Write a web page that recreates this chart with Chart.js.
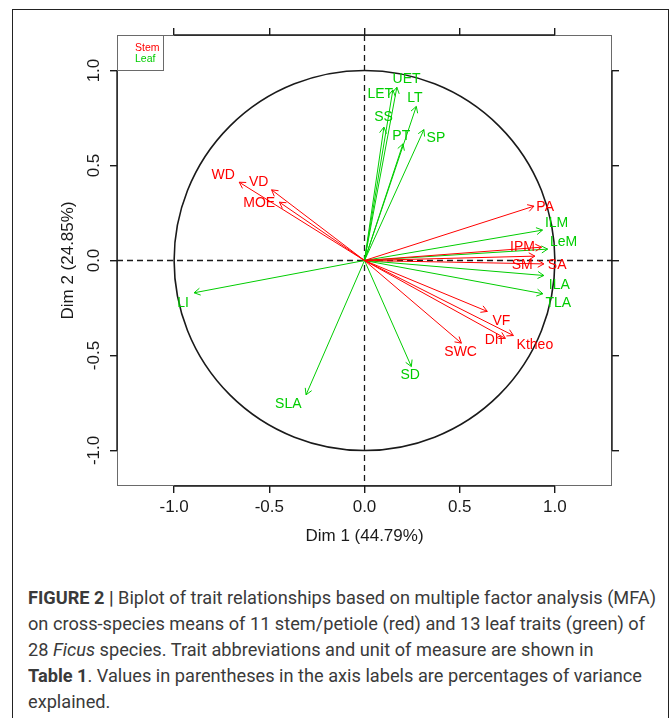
<!DOCTYPE html>
<html>
<head>
<meta charset="utf-8">
<title>MFA biplot</title>
<script src="https://cdn.jsdelivr.net/npm/chart.js@4.4.0/dist/chart.umd.min.js"></script>
<style>
  html, body { margin: 0; padding: 0; background: #fff; }
  body { width: 672px; height: 718px; overflow: hidden; position: relative; }
  #frame { position: absolute; left: 12px; top: 9px; width: 655px; height: 760px; border: 1.5px solid #222; }
  #wrap { position: absolute; left: 0; top: 0; width: 672px; height: 560px; }
  #caption {
    position: absolute; left: 28px; top: 585px;
    font-family: 'Roboto', 'Liberation Sans', sans-serif;
    font-size: 17.5px; line-height: 26px; color: #3a3a3a; white-space: nowrap;
    transform-origin: 0 0;
  }
  #caption span.line { display: block; }
</style>
</head>
<body>
<div id="frame"></div>
<div id="wrap"><canvas id="biplot"></canvas></div>
<div id="caption">
  <span class="line" id="capFirst"><b>FIGURE 2 |</b> Biplot of trait relationships based on multiple factor analysis (MFA)</span>
  <span class="line">on cross-species means of 11 stem/petiole (red) and 13 leaf traits (green) of</span>
  <span class="line">28 <i>Ficus</i> species. Trait abbreviations and unit of measure are shown in</span>
  <span class="line"><b>Table 1</b>. Values in parentheses in the axis labels are percentages of variance</span>
  <span class="line">explained.</span>
</div>
<script>
// stem / petiole traits (red)
const stemTraits = ['WD', 'VD', 'MOE', 'PA', 'IPM', 'SM', 'SA', 'VF', 'Dh', 'Ktheo', 'SWC'];
const stemDim1 = [-0.658, -0.488, -0.447, 0.89, 0.93, 0.895, 0.942, 0.645, 0.74, 0.782, 0.509];
const stemDim2 = [0.412, 0.372, 0.307, 0.286, 0.07, 0.023, -0.018, -0.268, -0.41, -0.395, -0.435];
const stemLabelDim1 = [-0.742, -0.556, -0.553, 0.949, 0.83, 0.828, 1.012, 0.719, 0.679, 0.895, 0.505];
const stemLabelDim2 = [0.447, 0.412, 0.304, 0.281, 0.068, -0.026, -0.023, -0.319, -0.421, -0.447, -0.482];

// leaf traits (green)
const leafTraits = ['UET', 'LET', 'SS', 'LT', 'PT', 'SP', 'ILM', 'LeM', 'ILA', 'TLA', 'LI', 'SLA', 'SD'];
const leafDim1 = [0.17, 0.149, 0.102, 0.272, 0.202, 0.312, 0.935, 0.962, 0.942, 0.937, -0.895, -0.307, 0.246];
const leafDim2 = [0.912, 0.898, 0.702, 0.811, 0.614, 0.689, 0.16, 0.06, -0.079, -0.175, -0.17, -0.707, -0.558];
const leafLabelDim1 = [0.221, 0.083, 0.1, 0.265, 0.193, 0.375, 1.009, 1.046, 1.023, 1.018, -0.953, -0.4, 0.24];
const leafLabelDim2 = [0.956, 0.877, 0.754, 0.853, 0.653, 0.646, 0.196, 0.096, -0.128, -0.223, -0.223, -0.758, -0.605];

// axes
const xTicks = [-1, -0.5, 0, 0.5, 1];
const xTickLabels = ['-1.0', '-0.5', '0.0', '0.5', '1.0'];
const yTicks = [-1, -0.5, 0, 0.5, 1];
const yTickLabels = ['-1.0', '-0.5', '0.0', '0.5', '1.0'];
const xRange = [-1.3, 1.3];
const yRange = [-1.187, 1.187];
const xTitle = 'Dim 1 (44.79%)';
const yTitle = 'Dim 2 (24.85%)';
const groupNames = ['Stem', 'Leaf'];

const colors = {
  stem: '#FF0000',
  leaf: '#00CD00',
  ink: '#1a1a1a',
  box: '#6a6a6a'
};
const fontFamily = "'Liberation Sans', Arial, Helvetica, sans-serif";

// one dataset per arrow, origin -> loading
function arrowSets(names, d1, d2, color) {
  return names.map((n, i) => ({
    label: n,
    data: [{x: 0, y: 0}, {x: d1[i], y: d2[i]}],
    showLine: true,
    borderColor: color,
    borderWidth: 1,
    pointRadius: 0,
    pointHoverRadius: 0,
    tipColor: color
  }));
}

const fixTicks = (vals) => (scale) => { scale.ticks = vals.map(v => ({value: v})); };

// R-style decorations: box, axis segments, unit circle, dashed zero lines, arrowheads, labels
const biplotDecor = {
  id: 'biplotDecor',
  beforeDatasetsDraw(chart) {
    const {ctx, chartArea: a, scales: {x, y}} = chart;
    const cx = x.getPixelForValue(0), cy = y.getPixelForValue(0);
    ctx.save();
    ctx.strokeStyle = colors.box;
    ctx.lineWidth = 1;
    ctx.strokeRect(a.left + 0.5, a.top + 0.5, a.width - 1, a.height - 1);

    const x0 = x.getPixelForValue(xTicks[0]), x1 = x.getPixelForValue(xTicks[xTicks.length - 1]);
    const y0 = y.getPixelForValue(yTicks[0]), y1 = y.getPixelForValue(yTicks[yTicks.length - 1]);
    ctx.strokeStyle = colors.ink;
    ctx.lineWidth = 1.4;
    ctx.beginPath();
    ctx.moveTo(x0, a.bottom); ctx.lineTo(x1, a.bottom);
    ctx.moveTo(x0, a.top); ctx.lineTo(x1, a.top);
    ctx.moveTo(a.left, y0); ctx.lineTo(a.left, y1);
    ctx.moveTo(a.right, y0); ctx.lineTo(a.right, y1);
    ctx.stroke();

    // correlation circle
    const rx = x.getPixelForValue(1) - cx, ry = cy - y.getPixelForValue(1);
    ctx.lineWidth = 1.6;
    ctx.beginPath();
    ctx.ellipse(cx, cy, rx, ry, 0, 0, Math.PI * 2);
    ctx.stroke();

    ctx.lineWidth = 1.3;
    ctx.setLineDash([6, 4]);
    ctx.beginPath();
    ctx.moveTo(a.left, cy); ctx.lineTo(a.right, cy);
    ctx.moveTo(cx, a.top); ctx.lineTo(cx, a.bottom);
    ctx.stroke();
    ctx.restore();
  },
  afterDatasetsDraw(chart) {
    const {ctx, chartArea: a, scales: {x, y}} = chart;
    const ox = x.getPixelForValue(0), oy = y.getPixelForValue(0);
    ctx.save();

    // arrowheads
    chart.data.datasets.forEach(ds => {
      const p = ds.data[1];
      const px = x.getPixelForValue(p.x), py = y.getPixelForValue(p.y);
      const ang = Math.atan2(py - oy, px - ox);
      const len = 7, spread = Math.PI / 6;
      ctx.strokeStyle = ds.tipColor;
      ctx.lineWidth = 1;
      ctx.beginPath();
      ctx.moveTo(px - len * Math.cos(ang - spread), py - len * Math.sin(ang - spread));
      ctx.lineTo(px, py);
      ctx.lineTo(px - len * Math.cos(ang + spread), py - len * Math.sin(ang + spread));
      ctx.stroke();
    });

    // trait labels
    ctx.font = '14px ' + fontFamily;
    ctx.textAlign = 'center';
    ctx.textBaseline = 'middle';
    const drawLabels = (names, lx, ly, color) => {
      ctx.fillStyle = color;
      names.forEach((n, i) => ctx.fillText(n, x.getPixelForValue(lx[i]), y.getPixelForValue(ly[i])));
    };
    drawLabels(stemTraits, stemLabelDim1, stemLabelDim2, colors.stem);
    drawLabels(leafTraits, leafLabelDim1, leafLabelDim2, colors.leaf);

    // legend box, top-left corner
    ctx.strokeStyle = colors.box;
    ctx.lineWidth = 1;
    ctx.strokeRect(a.left + 0.5, a.top + 0.5, 46, 35);
    ctx.font = '10.5px ' + fontFamily;
    ctx.textAlign = 'left';
    ctx.fillStyle = colors.stem;
    ctx.fillText(groupNames[0], a.left + 18, a.top + 13.5);
    ctx.fillStyle = colors.leaf;
    ctx.fillText(groupNames[1], a.left + 18, a.top + 24.5);

    // rotated y tick labels (R las=0)
    ctx.font = '17px ' + fontFamily;
    ctx.fillStyle = colors.ink;
    ctx.textAlign = 'center';
    yTicks.forEach((v, i) => {
      ctx.save();
      ctx.translate(a.left - 23, y.getPixelForValue(v));
      ctx.rotate(-Math.PI / 2);
      ctx.fillText(yTickLabels[i], 0, 0);
      ctx.restore();
    });
    ctx.restore();
  }
};

const tickGrid = {drawOnChartArea: false, drawTicks: true, tickLength: 7, color: colors.ink, lineWidth: 1.4};

new Chart(document.getElementById('biplot'), {
  type: 'scatter',
  data: {
    datasets: [
      ...arrowSets(stemTraits, stemDim1, stemDim2, colors.stem),
      ...arrowSets(leafTraits, leafDim1, leafDim2, colors.leaf)
    ]
  },
  options: {
    responsive: true,
    maintainAspectRatio: false,
    animation: false,
    events: [],
    layout: {padding: 0},
    plugins: {legend: {display: false}, tooltip: {enabled: false}},
    scales: {
      x: {
        type: 'linear', position: 'bottom', min: xRange[0], max: xRange[1],
        afterBuildTicks: fixTicks(xTicks),
        afterFit: (s) => { s.height = 74; },
        grid: tickGrid,
        border: {display: false},
        ticks: {
          padding: 4, color: colors.ink, maxRotation: 0, autoSkip: false,
          font: {family: fontFamily, size: 17},
          callback: (v, i) => xTickLabels[i]
        },
        title: {display: true, text: xTitle, color: colors.ink, padding: {top: 0, bottom: 13},
                font: {family: fontFamily, size: 17}}
      },
      x2: {
        type: 'linear', position: 'top', min: xRange[0], max: xRange[1],
        afterBuildTicks: fixTicks(xTicks),
        afterFit: (s) => { s.height = 35; },
        grid: tickGrid,
        border: {display: false},
        ticks: {display: false}
      },
      y: {
        type: 'linear', position: 'left', min: yRange[0], max: yRange[1],
        afterBuildTicks: fixTicks(yTicks),
        afterFit: (s) => { s.width = 117; },
        grid: tickGrid,
        border: {display: false},
        ticks: {display: false},
        title: {display: true, text: yTitle, color: colors.ink, padding: {top: 58, bottom: 0},
                font: {family: fontFamily, size: 17}}
      },
      y2: {
        type: 'linear', position: 'right', min: yRange[0], max: yRange[1],
        afterBuildTicks: fixTicks(yTicks),
        afterFit: (s) => { s.width = 60; },
        grid: tickGrid,
        border: {display: false},
        ticks: {display: false}
      }
    }
  },
  plugins: [biplotDecor]
});

// squeeze the caption horizontally so its first line spans the same width as the printed one
const cap = document.getElementById('caption');
const firstLine = document.getElementById('capFirst');
const range = document.createRange();
range.selectNodeContents(firstLine);
const w = range.getBoundingClientRect().width;
if (w > 0) cap.style.transform = 'scaleX(' + (628 / w).toFixed(4) + ')';
</script>
</body>
</html>
